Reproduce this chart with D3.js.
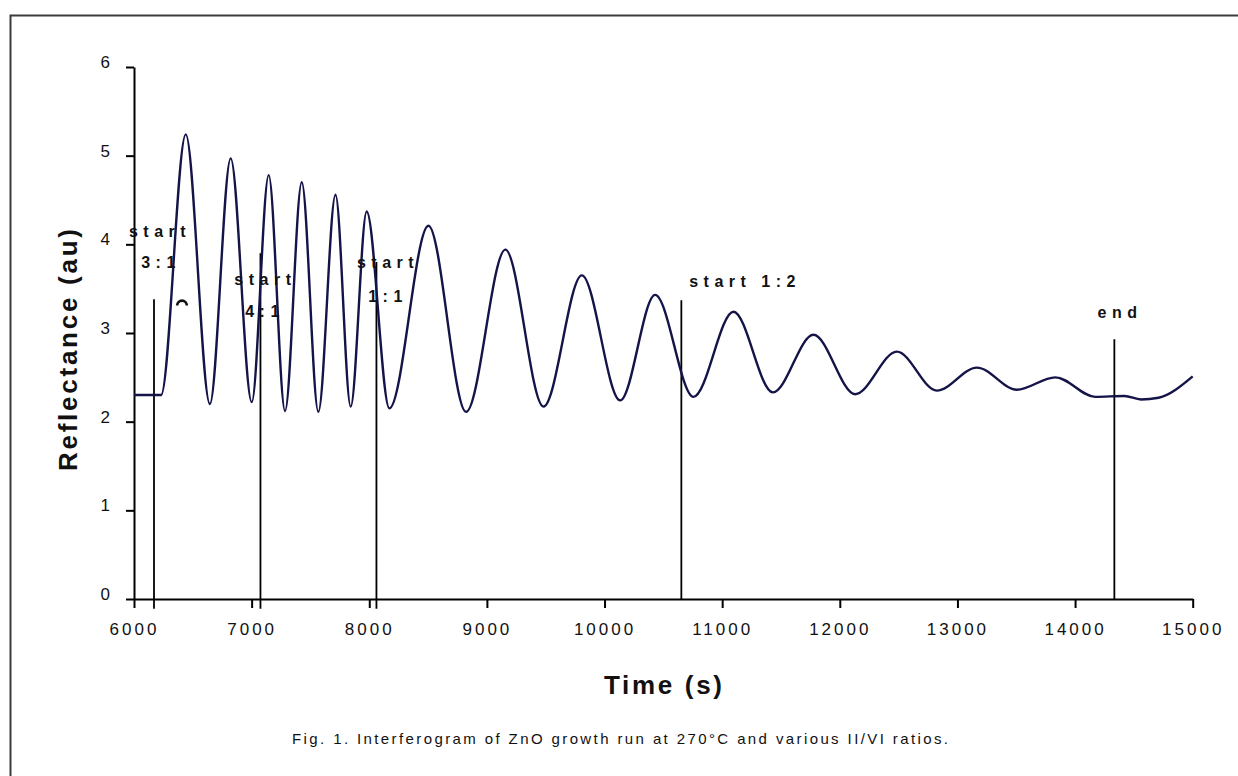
<!DOCTYPE html>
<html><head><meta charset="utf-8">
<script src="https://cdn.jsdelivr.net/npm/d3@7"></script>
<style>
body{margin:0;background:#fff;}
svg{display:block;font-family:"Liberation Sans",Arial,sans-serif;}
</style>
</head><body>
<svg id="c" width="1238" height="776"></svg>
<script>
// ---- data ----
const times = [6000, 6230, 6440, 6645, 6822, 7001, 7145, 7284, 7426, 7567, 7713, 7842, 7978, 8171,
  8503, 8823, 9157, 9481, 9807, 10133, 10430, 10756, 11096, 11431, 11776, 12131, 12485, 12825,
  13165, 13505, 13832, 14170, 14420, 14560, 14710, 15000];
const reflectance = [2.30, 2.30, 5.24, 2.20, 4.97, 2.22, 4.78, 2.12, 4.70, 2.11, 4.56, 2.17, 4.37, 2.15,
  4.21, 2.11, 3.94, 2.17, 3.65, 2.24, 3.43, 2.28, 3.24, 2.33, 2.98, 2.31, 2.79, 2.35,
  2.61, 2.36, 2.50, 2.28, 2.29, 2.25, 2.27, 2.51];
const xTicks = [6000, 7000, 8000, 9000, 10000, 11000, 12000, 13000, 14000, 15000];
const yTicks = [0, 1, 2, 3, 4, 5, 6];
const markerTimes = [6170, 7075, 8061, 10653, 14334];
const markerTops = [3.38, 3.90, 3.80, 3.37, 2.93];
const markerBottoms = [-0.11, -0.11, -0.11, 0, 0];
const labelTexts = ["start", "3:1", "start", "4:1", "start", "1:1", "start 1:2", "end"];
const labelTimes = [6196, 6204, 7092, 7088, 8134, 8134, 11169, 14357];
const labelValues = [4.14, 3.79, 3.60, 3.24, 3.79, 3.41, 3.58, 3.23];
const arcMarkTime = 6408, arcMarkValue = 3.31;
const xTitle = "Time (s)";
const yTitle = "Reflectance (au)";
const caption = "Fig. 1. Interferogram of ZnO growth run at 270°C and various II/VI ratios.";

// ---- drawing ----
const svg = d3.select("#c");
svg.append("rect").attr("x", 10.5).attr("y", 15.5).attr("width", 1260).attr("height", 800)
  .attr("fill", "#fff").attr("stroke", "#3c3c3c").attr("stroke-width", 2);

const x = d3.scaleLinear().domain([6000, 15000]).range([134, 1192.7]);
const y = d3.scaleLinear().domain([0, 6]).range([599, 67]);

const gx = svg.append("g").attr("transform", `translate(0,${y(0)})`)
  .call(d3.axisBottom(x).tickValues(xTicks).tickSize(9).tickSizeOuter(0).tickPadding(15).tickFormat(d3.format("d")));
const gy = svg.append("g").attr("transform", `translate(${x(6000)},0)`)
  .call(d3.axisLeft(y).tickValues(yTicks).tickSize(8).tickSizeOuter(0).tickPadding(16).tickFormat(d3.format("d")));
[gx, gy].forEach(g => {
  g.select(".domain").attr("stroke", "#000").attr("stroke-width", 2);
  g.selectAll(".tick line").attr("stroke", "#000").attr("stroke-width", 2);
  g.selectAll(".tick text").attr("fill", "#111").attr("font-size", 17)
    .attr("font-family", '"Liberation Sans",Arial,sans-serif');
});
gx.selectAll(".tick text").style("letter-spacing", "3px");
gy.selectAll(".tick text").attr("y", -5);

// markers
svg.append("g").selectAll("line").data(markerTimes).join("line")
  .attr("x1", d => x(d)).attr("x2", d => x(d))
  .attr("y1", (d, i) => y(markerBottoms[i])).attr("y2", (d, i) => y(markerTops[i]))
  .attr("stroke", "#000").attr("stroke-width", 1.8);

// reflectance curve
const line = d3.line().x(d => x(d[0])).y(d => y(d[1])).curve(d3.curveMonotoneX);
svg.append("path").datum(times.map((t, i) => [t, reflectance[i]]))
  .attr("d", line).attr("fill", "none").attr("stroke", "#141448").attr("stroke-width", 2.4)
  .attr("stroke-linejoin", "round");

// small arc mark
svg.append("path")
  .attr("d", d3.arc().innerRadius(3.5).outerRadius(6.2).startAngle(-Math.PI / 2).endAngle(Math.PI / 2)())
  .attr("transform", `translate(${x(arcMarkTime)},${y(arcMarkValue)})`).attr("fill", "#111");

// marker labels
svg.append("g").selectAll("text").data(labelTexts).join("text")
  .attr("x", (d, i) => x(labelTimes[i]) + 3).attr("y", (d, i) => y(labelValues[i]))
  .attr("text-anchor", "middle").attr("dominant-baseline", "central")
  .attr("font-weight", "bold").attr("font-size", 16).style("letter-spacing", "5.5px")
  .attr("fill", "#111").text(d => d);

// axis titles
svg.append("text").attr("transform", "translate(68,350) rotate(-90)")
  .attr("text-anchor", "middle").attr("dominant-baseline", "central")
  .attr("font-weight", "bold").attr("font-size", 26).attr("textLength", 242).attr("lengthAdjust", "spacing")
  .attr("fill", "#111").text(yTitle);
svg.append("text").attr("x", 663).attr("y", 685)
  .attr("text-anchor", "middle").attr("dominant-baseline", "central")
  .attr("font-weight", "bold").attr("font-size", 26).attr("textLength", 118).attr("lengthAdjust", "spacing")
  .attr("fill", "#111").text(xTitle);
svg.append("text").attr("x", 620).attr("y", 738)
  .attr("text-anchor", "middle").attr("dominant-baseline", "central")
  .attr("font-size", 15).attr("textLength", 656).attr("lengthAdjust", "spacing")
  .attr("fill", "#111").text(caption);
</script>
</body></html>
